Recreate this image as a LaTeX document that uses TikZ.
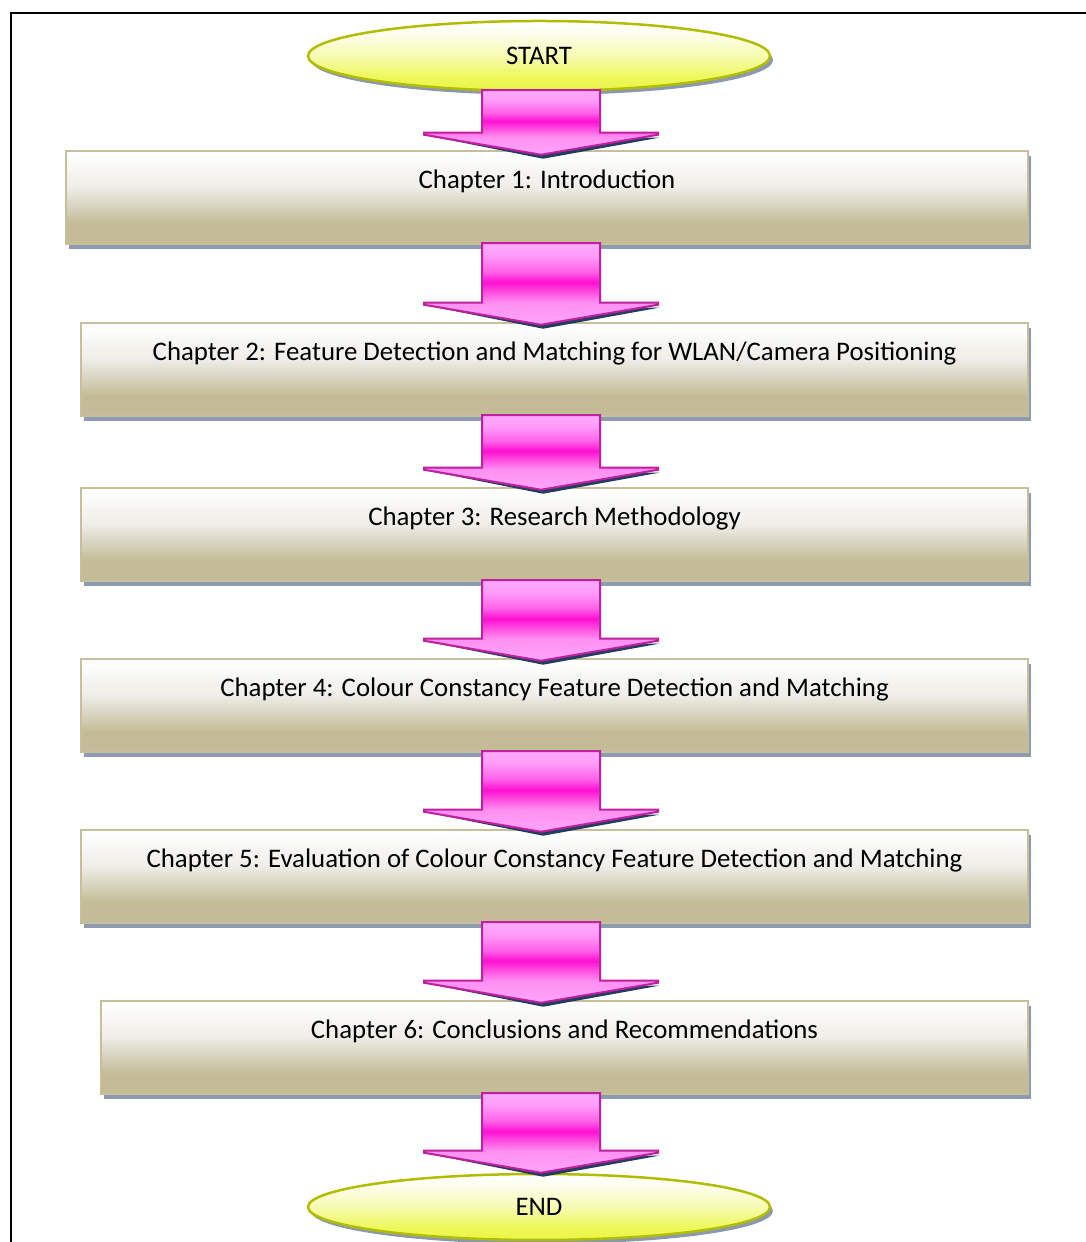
\documentclass[tikz,border=0pt]{standalone}
\usepackage{fontspec}
\setmainfont{Carlito}
\usetikzlibrary{calc,shadows,shapes.geometric}

\definecolor{boxborder}{HTML}{C7BF99}
\definecolor{boxshadow}{HTML}{8D9BB0}
\definecolor{boxtan}{HTML}{C4BC96}
\definecolor{boxmid}{HTML}{DCD8C8}
\definecolor{boxlight}{HTML}{EFEEE8}
\definecolor{boxlighter}{HTML}{F4F3EF}
\definecolor{boxwhite}{HTML}{FCFCFB}
\definecolor{arrowborder}{HTML}{C01FA0}
\definecolor{arrowshadow}{HTML}{223E5F}
\definecolor{arA}{HTML}{FFA6FA}
\definecolor{arB}{HTML}{FF90F2}
\definecolor{arC}{HTML}{FF50E0}
\definecolor{arD}{HTML}{FF10D4}
\definecolor{arE}{HTML}{FF60E8}
\definecolor{arF}{HTML}{FF9CFA}
\definecolor{arG}{HTML}{FFAAFF}
\definecolor{ellborder}{HTML}{B2BC00}
\definecolor{ellshadow}{HTML}{8A98B0}
\definecolor{elA}{HTML}{E8F542}
\definecolor{elB}{HTML}{EEF85C}
\definecolor{elC}{HTML}{F6FBB0}
\definecolor{elD}{HTML}{FDFEEA}

\pgfdeclareverticalshading{boxshade}{100bp}{color(0bp)=(boxtan); color(25bp)=(boxtan); color(36bp)=(boxtan); color(47.5bp)=(boxmid); color(56bp)=(boxlight); color(62.5bp)=(boxlighter); color(70bp)=(boxwhite); color(75bp)=(white); color(100bp)=(white)}
\pgfdeclareverticalshading{arrowshade}{100bp}{color(0bp)=(arA); color(25bp)=(arA); color(38.5bp)=(arB); color(45bp)=(arC); color(51bp)=(arD); color(57.5bp)=(arE); color(67.5bp)=(arF); color(75bp)=(arG); color(100bp)=(arG)}
\pgfdeclareverticalshading{ellshade}{100bp}{color(0bp)=(elA); color(25bp)=(elA); color(35bp)=(elB); color(50bp)=(elC); color(65bp)=(elD); color(75bp)=(white); color(100bp)=(white)}

\pgfdeclarelayer{fg}
\pgfsetlayers{main,fg}

% #1 from node, #2 to node, #3 tip offset below target north
\newcommand\chaparrow[3]{%
  \begin{pgfonlayer}{fg}
  \path[fill=arrowshadow] let \p1=(#1.south), \p2=(#2.north) in
    (541-113, \y2-#3+19) -- (541+118, \y2-#3+17) -- (543, \y2-#3-4) -- cycle;
  \path[draw=arrowborder, line width=2pt, line join=miter, shade, shading=arrowshade]
    let \p1=(#1.south), \p2=(#2.north) in
    (541-59, \y1+2) -- (541+59, \y1+2) -- (541+59, \y2-#3+22) -- (541+117, \y2-#3+22)
    -- (541+117, \y2-#3+20) -- (541, \y2-#3) -- (541-117, \y2-#3+20)
    -- (541-117, \y2-#3+22) -- (541-59, \y2-#3+22) -- cycle;
  \end{pgfonlayer}}

\begin{document}
\begin{tikzpicture}[x=1pt, y=1pt,
  chap/.style={draw=boxborder, line width=2.5pt, shade, shading=boxshade,
    minimum height=93pt, inner sep=0pt,
    drop shadow={shadow xshift=3pt, shadow yshift=-5pt, fill=boxshadow, opacity=1}},
  chaptext/.style={anchor=base, yshift=-38.5pt, inner sep=0pt,
    font=\fontsize{26.8}{32}\selectfont, text=black},
  term/.style={ellipse, draw=ellborder, line width=2.5pt, shade, shading=ellshade,
    minimum width=462pt, inner sep=0pt, font=\fontsize{26.8}{32}\selectfont,
    drop shadow={shadow xshift=3pt, shadow yshift=-4pt, fill=ellshadow, opacity=1}}]
\useasboundingbox (0,0) rectangle (1086,1242);
\fill[white] (0,0) rectangle (1086,1242);
\draw[line width=2.5pt] (1086,1229) -- (11,1229) -- (11,0);

\node[term, minimum height=70pt] (start) at (539,1186) {START};
\node[chap, minimum width=962pt, label={[chaptext]north:Chapter 1: Introduction}] (c1) at (547,1044.5) {};
\node[chap, minimum width=947pt, label={[chaptext]north:Chapter 2: Feature Detection and Matching for WLAN/Camera Positioning}] (c2) at (554.5,872.5) {};
\node[chap, minimum width=947pt, label={[chaptext]north:Chapter 3: Research Methodology}] (c3) at (554.5,707.5) {};
\node[chap, minimum width=947pt, label={[chaptext]north:Chapter 4: Colour Constancy Feature Detection and Matching}] (c4) at (554.5,536.5) {};
\node[chap, minimum width=947pt, label={[chaptext]north:Chapter 5: Evaluation of Colour Constancy Feature Detection and Matching}] (c5) at (554.5,365.5) {};
\node[chap, minimum width=927pt, label={[chaptext]north:Chapter 6: Conclusions and Recommendations}] (c6) at (564.5,194.5) {};
\node[term, minimum height=66pt] (end) at (539,35) {END};

\chaparrow{start}{c1}{5}
\chaparrow{c1}{c2}{3}
\chaparrow{c2}{c3}{3}
\chaparrow{c3}{c4}{3}
\chaparrow{c4}{c5}{3}
\chaparrow{c5}{c6}{3}
\chaparrow{c6}{end}{0}
\end{tikzpicture}
\end{document}
